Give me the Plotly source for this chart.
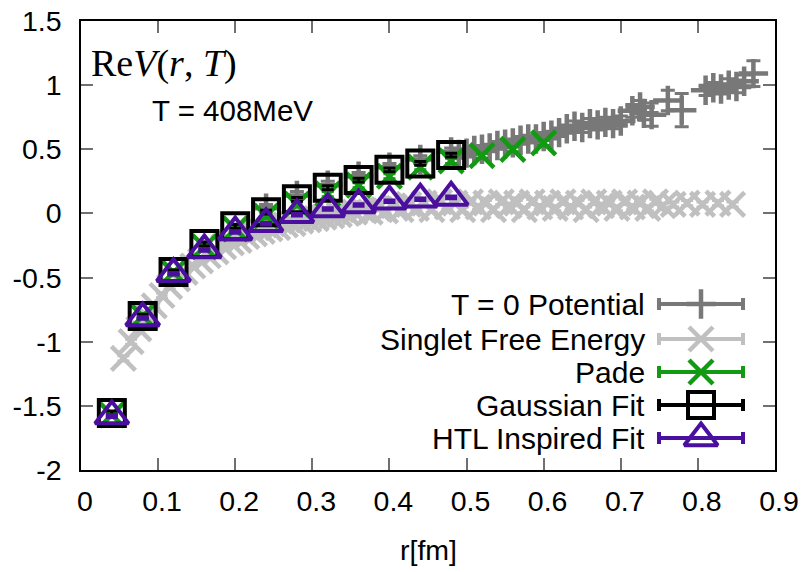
import plotly.graph_objects as go

# ---------------- data ----------------
r_fit = [0.04, 0.08, 0.12, 0.16, 0.20, 0.24, 0.28, 0.32, 0.36, 0.40, 0.44, 0.48]
v_gauss = [-1.556, -0.80, -0.456, -0.238, -0.10, 0.01, 0.11, 0.20, 0.26, 0.34, 0.39, 0.455]
e_gauss = [0.015, 0.015, 0.015, 0.015, 0.015, 0.015, 0.015, 0.015, 0.015, 0.015, 0.015, 0.015]
v_htl = [-1.58, -0.815, -0.47, -0.285, -0.145, -0.08, -0.01, 0.035, 0.065, 0.095, 0.11, 0.125]
e_htl = [0.01, 0.01, 0.01, 0.01, 0.01, 0.01, 0.01, 0.01, 0.01, 0.01, 0.01, 0.01]

r_pade = [0.04, 0.08, 0.12, 0.16, 0.20, 0.24, 0.28, 0.32, 0.36, 0.40, 0.44, 0.48, 0.52, 0.56, 0.60]
v_pade = [-1.57, -0.80, -0.46, -0.26, -0.12, -0.02, 0.07, 0.15, 0.22, 0.29, 0.36, 0.41, 0.45, 0.50, 0.55]
e_pade = [0.02, 0.02, 0.02, 0.02, 0.02, 0.02, 0.02, 0.02, 0.02, 0.02, 0.02, 0.02, 0.02, 0.02, 0.02]

r_t0 = [0.24, 0.28, 0.32, 0.36, 0.40, 0.44, 0.48,
        0.49, 0.50, 0.51, 0.52, 0.53, 0.54, 0.55, 0.56, 0.57, 0.58, 0.59, 0.60, 0.61,
        0.62, 0.63, 0.64, 0.65, 0.66, 0.67, 0.68, 0.69, 0.70,
        0.715, 0.725, 0.73, 0.74, 0.761, 0.779,
        0.81, 0.82, 0.83, 0.84, 0.85, 0.86, 0.872]
v_t0 = [0.04, 0.14, 0.22, 0.29, 0.36, 0.42, 0.48,
        0.46, 0.47, 0.49, 0.50, 0.51, 0.53, 0.54, 0.55, 0.57, 0.58, 0.58, 0.60, 0.61,
        0.63, 0.66, 0.68, 0.67, 0.70, 0.69, 0.71, 0.70, 0.72,
        0.80, 0.83, 0.78, 0.77, 0.88, 0.805,
        0.96, 0.98, 0.97, 1.00, 0.99, 1.03, 1.09]
e_t0 = [0.03, 0.03, 0.03, 0.03, 0.03, 0.03, 0.03,
        0.03, 0.03, 0.03, 0.03, 0.03, 0.03, 0.03, 0.03, 0.03, 0.03, 0.03, 0.03, 0.03,
        0.03, 0.03, 0.04, 0.04, 0.04, 0.04, 0.04, 0.04, 0.04,
        0.05, 0.05, 0.05, 0.09, 0.08, 0.13,
        0.04, 0.04, 0.04, 0.05, 0.05, 0.05, 0.10]

r_singlet = [0.055, 0.065, 0.075, 0.085, 0.095, 0.105, 0.115, 0.125, 0.135, 0.145,
             0.155, 0.165, 0.175, 0.185, 0.195, 0.205, 0.215, 0.225, 0.235, 0.245,
             0.255, 0.265, 0.275, 0.285, 0.295, 0.305, 0.315, 0.325, 0.335, 0.345,
             0.355, 0.365, 0.375, 0.385, 0.395, 0.405, 0.415, 0.425, 0.435, 0.445,
             0.455, 0.465, 0.475, 0.485, 0.495, 0.505, 0.515, 0.525, 0.535, 0.545,
             0.555, 0.565, 0.575, 0.585, 0.595, 0.605, 0.615, 0.625, 0.635, 0.645,
             0.655, 0.665, 0.675, 0.685, 0.695, 0.705, 0.715, 0.725, 0.735, 0.745,
             0.755, 0.768, 0.786, 0.806, 0.826, 0.845]
v_singlet = [-1.13, -1.00, -0.90, -0.80, -0.72, -0.64, -0.57, -0.51, -0.46, -0.41,
             -0.37, -0.33, -0.30, -0.26, -0.23, -0.21, -0.18, -0.16, -0.14, -0.12,
             -0.11, -0.09, -0.08, -0.06, -0.05, -0.04, -0.03, -0.02, -0.01, 0.00,
             0.01, 0.03, 0.01, 0.04, 0.02, 0.06, 0.03, 0.07, 0.04, 0.08,
             0.03, 0.09, 0.05, 0.08, 0.03, 0.09, 0.05, 0.08, 0.03, 0.09,
             0.06, 0.08, 0.03, 0.09, 0.05, 0.08, 0.04, 0.09, 0.05, 0.08,
             0.03, 0.09, 0.06, 0.08, 0.04, 0.09, 0.05, 0.08, 0.04, 0.09,
             0.06, 0.07, 0.08, 0.07, 0.08, 0.07]
e_singlet = [0.02] * len(r_singlet)

x_ticks = [0, 0.1, 0.2, 0.3, 0.4, 0.5, 0.6, 0.7, 0.8, 0.9]
x_ticktext = ["0", "0.1", "0.2", "0.3", "0.4", "0.5", "0.6", "0.7", "0.8", "0.9"]
y_ticks = [-2, -1.5, -1, -0.5, 0, 0.5, 1, 1.5]
y_ticktext = ["-2", "-1.5", "-1", "-0.5", "0", "0.5", "1", "1.5"]

legend_names = ["T = 0 Potential", "Singlet Free Energy", "Pade", "Gaussian Fit", "HTL Inspired Fit"]

# ---------------- styles ----------------
FONT = "Liberation Sans"
C_T0 = "#787878"
C_SING = "#c0c0c0"
C_PADE = "#139a13"
C_GAUSS = "#000000"
C_HTL = "#4b0f9f"

styles = [
    dict(color=C_T0, symbol="cross-thin-open", size=21, cap=7, lw=4.5),
    dict(color=C_SING, symbol="x-thin-open", size=24, cap=6, lw=4.5),
    dict(color=C_PADE, symbol="x-thin-open", size=24, cap=6, lw=4.5),
    dict(color=C_GAUSS, symbol="square-open", size=26, cap=6, lw=4),
    dict(color=C_HTL, symbol="triangle-up-open", size=29, cap=6, lw=4),
]

series = [
    (r_t0, v_t0, e_t0),
    (r_singlet, v_singlet, e_singlet),
    (r_pade, v_pade, e_pade),
    (r_fit, v_gauss, e_gauss),
    (r_fit, v_htl, e_htl),
]

fig = go.Figure()

for (xs, ys, es), st, name in zip(series, styles, legend_names):
    fig.add_trace(go.Scatter(
        x=xs, y=ys, mode="markers", name=name,
        marker=dict(symbol=st["symbol"], size=st["size"], color=st["color"],
                    line=dict(color=st["color"], width=st["lw"])),
        error_y=dict(type="data", array=es, visible=True, color=st["color"],
                     thickness=3, width=st["cap"]),
        showlegend=False,
    ))

# ---------------- gnuplot-style key (pixel overlay axes) ----------------
key_y = [304, 339, 372, 405, 438]
key_x_center = 701
key_half = 42
for name, st, ky in zip(legend_names, styles, key_y):
    fig.add_trace(go.Scatter(
        x=[key_x_center], y=[ky], xaxis="x2", yaxis="y2", mode="markers",
        marker=dict(symbol=st["symbol"], size=st["size"], color=st["color"],
                    line=dict(color=st["color"], width=st["lw"])),
        error_x=dict(type="data", array=[key_half], visible=True, color=st["color"],
                     thickness=4, width=6),
        showlegend=False, cliponaxis=False, hoverinfo="skip",
    ))
    fig.add_annotation(x=647, y=ky, xref="x2", yref="y2", text=name, showarrow=False,
                       xanchor="right", yanchor="middle",
                       font=dict(family=FONT, size=30, color="black"))

fig.add_annotation(x=89, y=63, xref="x2", yref="y2",
                   text="Re<i>V</i>(<i>r</i>, <i>T</i>)", showarrow=False,
                   xanchor="left", yanchor="middle",
                   font=dict(family="Liberation Serif", size=38, color="black"))
fig.add_annotation(x=150, y=110, xref="x2", yref="y2", text="T = 408MeV",
                   showarrow=False, xanchor="left", yanchor="middle",
                   font=dict(family=FONT, size=29.5, color="black"))
# axis title, placed in paper units below the frame (plot area spans y 470..21 px)
fig.add_annotation(x=0.5, y=(470 - 550) / 449, xref="paper", yref="paper", text="r[fm]",
                   showarrow=False, xanchor="center", yanchor="middle",
                   font=dict(family=FONT, size=28.5, color="black"))

axis_common = dict(showgrid=False, zeroline=False, showline=True, linecolor="black",
                   linewidth=1.5, mirror="ticks", ticks="inside", ticklen=12,
                   tickcolor="#707070", tickwidth=1.5, automargin=False,
                   tickfont=dict(family=FONT, size=28.5, color="black"))

fig.update_layout(
    width=803, height=572,
    margin=dict(l=81, r=28, t=21, b=102, pad=0),
    plot_bgcolor="white", paper_bgcolor="white",
    showlegend=False,
    xaxis=dict(range=[0, 0.9], tickvals=x_ticks,
               ticktext=["\u00a0" + t for t in x_ticktext],
               ticklabelstandoff=5, **axis_common),
    yaxis=dict(range=[-2, 1.5], tickvals=y_ticks, ticktext=y_ticktext,
               ticklabelstandoff=12, **axis_common),
    xaxis2=dict(range=[81, 775], overlaying="x", anchor="y2", visible=False,
                fixedrange=True, automargin=False),
    yaxis2=dict(range=[470, 21], overlaying="y", anchor="x2", visible=False,
                fixedrange=True, automargin=False),
)

fig.write_html("out.html")
